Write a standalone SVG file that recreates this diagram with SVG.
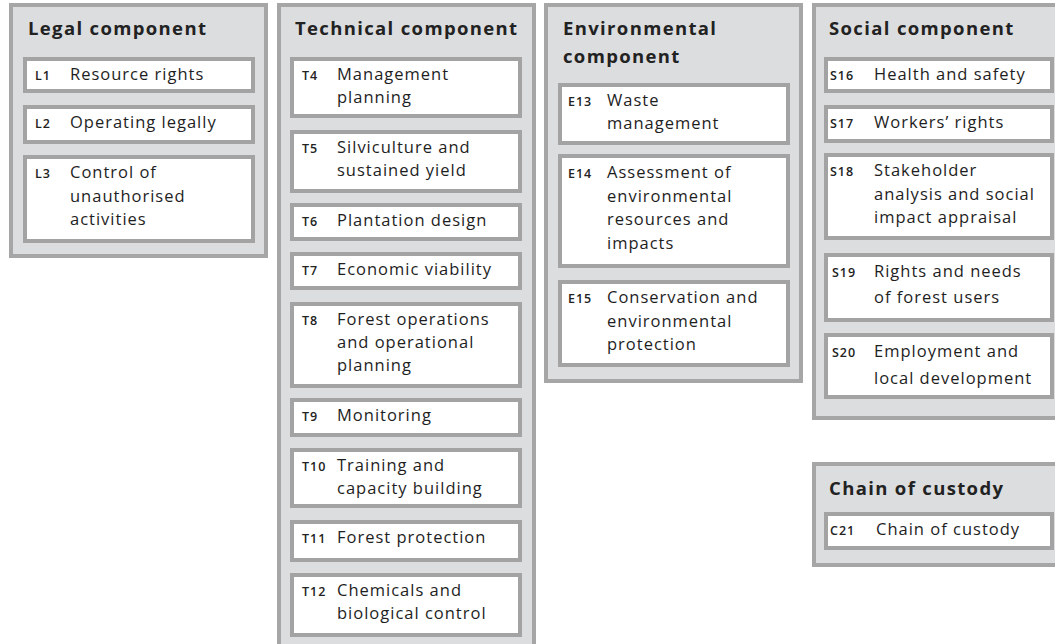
<svg xmlns="http://www.w3.org/2000/svg" width="1055" height="644" viewBox="0 0 1055 644">
<style>
.panel{fill:#dcdddf;stroke:#a6a6a6;stroke-width:4}
.box{fill:#ffffff;stroke:#a3a3a3;stroke-width:4}
.title{font-family:"Open Sans","DejaVu Sans",sans-serif;font-weight:bold;font-size:18.5px;letter-spacing:1.35px;fill:#222}
.item{font-family:"Open Sans","DejaVu Sans",sans-serif;font-size:16.5px;letter-spacing:1px;fill:#1e1e1e}
.lab{font-family:"Open Sans","DejaVu Sans",sans-serif;font-size:12.5px;font-weight:600;letter-spacing:1px;fill:#222}
</style>
<rect width="1055" height="644" fill="#ffffff"/>
<g id="legal">
<rect class="panel" x="11" y="5" width="255" height="251"/>
<text class="title" x="28" y="35">Legal component</text>
<g id="L1"><rect class="box" x="25" y="59" width="228" height="32"/><text class="lab" x="35" y="80">L1</text><text class="item" x="70" y="80">Resource rights</text></g>
<g id="L2"><rect class="box" x="25" y="107" width="228" height="35"/><text class="lab" x="35" y="128">L2</text><text class="item" x="70" y="128">Operating legally</text></g>
<g id="L3"><rect class="box" x="25" y="157" width="228" height="84"/><text class="lab" x="35" y="178">L3</text><text class="item" x="70" y="178">Control of</text><text class="item" x="70" y="201.5">unauthorised</text><text class="item" x="70" y="225">activities</text></g>
</g>
<g id="technical">
<rect class="panel" x="279" y="5" width="255" height="645"/>
<text class="title" x="295" y="35">Technical component</text>
<g id="T4"><rect class="box" x="292" y="59" width="228" height="57"/><text class="lab" x="302" y="80">T4</text><text class="item" x="337" y="80">Management</text><text class="item" x="337" y="103">planning</text></g>
<g id="T5"><rect class="box" x="292" y="132" width="228" height="59"/><text class="lab" x="302" y="153">T5</text><text class="item" x="337" y="153">Silviculture and</text><text class="item" x="337" y="176">sustained yield</text></g>
<g id="T6"><rect class="box" x="292" y="205" width="228" height="34"/><text class="lab" x="302" y="226">T6</text><text class="item" x="337" y="226">Plantation design</text></g>
<g id="T7"><rect class="box" x="292" y="254" width="228" height="34"/><text class="lab" x="302" y="275">T7</text><text class="item" x="337" y="275">Economic viability</text></g>
<g id="T8"><rect class="box" x="292" y="304" width="228" height="82"/><text class="lab" x="302" y="325">T8</text><text class="item" x="337" y="325">Forest operations</text><text class="item" x="337" y="348">and operational</text><text class="item" x="337" y="371">planning</text></g>
<g id="T9"><rect class="box" x="292" y="400" width="228" height="35"/><text class="lab" x="302" y="421">T9</text><text class="item" x="337" y="421">Monitoring</text></g>
<g id="T10"><rect class="box" x="292" y="450" width="228" height="56"/><text class="lab" x="302" y="471">T10</text><text class="item" x="337" y="471">Training and</text><text class="item" x="337" y="494">capacity building</text></g>
<g id="T11"><rect class="box" x="292" y="522" width="228" height="38"/><text class="lab" x="302" y="543">T11</text><text class="item" x="337" y="543">Forest protection</text></g>
<g id="T12"><rect class="box" x="292" y="575" width="228" height="60"/><text class="lab" x="302" y="596">T12</text><text class="item" x="337" y="596">Chemicals and</text><text class="item" x="337" y="619">biological control</text></g>
</g>
<g id="environmental">
<rect class="panel" x="546" y="5" width="255" height="376"/>
<text class="title" x="563" y="35">Environmental</text>
<text class="title" x="563" y="63">component</text>
<g id="E13"><rect class="box" x="560" y="85" width="228" height="58"/><text class="lab" x="568" y="106">E13</text><text class="item" x="607" y="106">Waste</text><text class="item" x="607" y="129">management</text></g>
<g id="E14"><rect class="box" x="560" y="156" width="228" height="110"/><text class="lab" x="568" y="178">E14</text><text class="item" x="607" y="178">Assessment of</text><text class="item" x="607" y="201.5">environmental</text><text class="item" x="607" y="225">resources and</text><text class="item" x="607" y="248.5">impacts</text></g>
<g id="E15"><rect class="box" x="560" y="282" width="228" height="83"/><text class="lab" x="568" y="303">E15</text><text class="item" x="607" y="303">Conservation and</text><text class="item" x="607" y="326.5">environmental</text><text class="item" x="607" y="350">protection</text></g>
</g>
<g id="social">
<rect class="panel" x="814" y="5" width="250" height="413"/>
<text class="title" x="829" y="35">Social component</text>
<g id="S16"><rect class="box" x="826" y="59" width="226" height="32"/><text class="lab" x="830" y="80">S16</text><text class="item" x="874" y="80">Health and safety</text></g>
<g id="S17"><rect class="box" x="826" y="107" width="226" height="34"/><text class="lab" x="830" y="128">S17</text><text class="item" x="874" y="128">Workers’ rights</text></g>
<g id="S18"><rect class="box" x="826" y="155" width="226" height="83"/><text class="lab" x="830" y="176">S18</text><text class="item" x="874" y="176">Stakeholder</text><text class="item" x="874" y="199.5">analysis and social</text><text class="item" x="874" y="223">impact appraisal</text></g>
<g id="S19"><rect class="box" x="826" y="255" width="226" height="65"/><text class="lab" x="832" y="277">S19</text><text class="item" x="874" y="277">Rights and needs</text><text class="item" x="874" y="303">of forest users</text></g>
<g id="S20"><rect class="box" x="826" y="335" width="226" height="62"/><text class="lab" x="832" y="357">S20</text><text class="item" x="874" y="357">Employment and</text><text class="item" x="874" y="384">local development</text></g>
</g>
<g id="custody">
<rect class="panel" x="814" y="464" width="250" height="101"/>
<text class="title" x="829" y="495">Chain of custody</text>
<g id="C21"><rect class="box" x="826" y="514" width="226" height="34"/><text class="lab" x="830" y="535">C21</text><text class="item" x="876" y="535">Chain of custody</text></g>
</g>
<g id="connectors"/>
</svg>
